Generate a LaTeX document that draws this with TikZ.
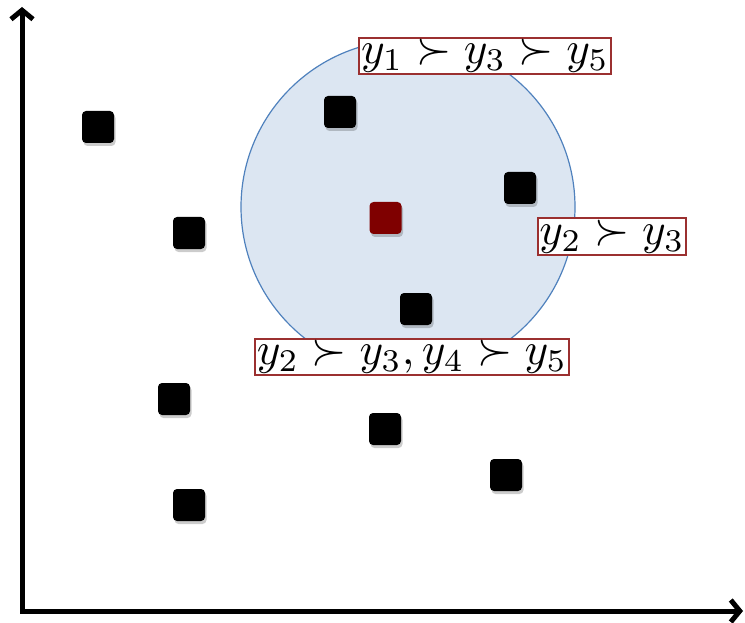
\documentclass[tikz,border=0pt]{standalone}
\usetikzlibrary{arrows.meta,shadows}
\definecolor{cfill}{HTML}{DCE6F2}
\definecolor{cline}{HTML}{4F81BD}
\definecolor{dred}{HTML}{7F0000}
\definecolor{lbord}{HTML}{9B3030}
\tikzset{
  pt/.style={rectangle, rounded corners=4pt, minimum size=32pt, inner sep=0pt, fill=black,
    drop shadow={shadow xshift=1.5pt, shadow yshift=-3pt, opacity=0.2, fill=black}},
  lab/.style={draw=lbord, line width=1.8pt, fill=white, inner sep=0.4pt, scale=4.52, transform shape=false},
  axis/.style={line width=5pt, line join=miter, {Straight Barb[length=9pt,width=22pt]}-{Straight Barb[length=9pt,width=22pt]}}
}
\begin{document}
\begin{tikzpicture}[x=1pt,y=-1pt]
\useasboundingbox (0,0) rectangle (745,623);
\node[circle, draw=cline, line width=1.2pt, fill=cfill, minimum size=334pt, inner sep=0pt] (circ) at (408,207) {};
\node[pt] (s1) at (98,127) {};
\node[pt] (s2) at (189,233) {};
\node[pt] (s3) at (340,112) {};
\node[pt, fill=dred] (c) at (385.5,218) {};
\node[pt] (s4) at (520,188) {};
\node[pt] (s5) at (416,309) {};
\node[pt] (s6) at (174,399) {};
\node[pt] (s7) at (385,429) {};
\node[pt] (s8) at (506,475) {};
\node[pt] (s9) at (189,505) {};
\coordinate (origin) at (22,611);
\coordinate (yend) at (22,7);
\coordinate (xend) at (743,611);
\draw[axis] (yend) -- (origin) -- (xend);
\node[lab] (l1) at (485,56) {$y_1\succ y_3\succ y_5$};
\node[lab] (l2) at (612,236.5) {$y_2\succ y_3$};
\node[lab] (l3) at (412,357) {$y_2\succ y_3, y_4\succ y_5$};
\end{tikzpicture}
\end{document}
